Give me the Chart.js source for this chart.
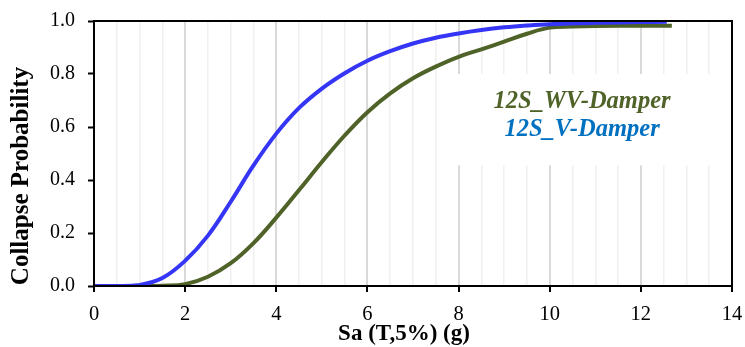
<!DOCTYPE html>
<html>
<head>
<meta charset="utf-8">
<script src="https://cdn.jsdelivr.net/npm/chart.js@4"></script>
<style>
html,body{margin:0;padding:0;background:#fff;}
#wrap{width:745px;height:347px;position:relative;}
</style>
</head>
<body>
<div id="wrap"><canvas id="c" width="745" height="347"></canvas></div>
<script>
// ---- data ----
const saV  = [0, 0.5, 1.0, 1.5, 2.0, 2.5, 3.0, 3.5, 4.0, 4.5, 5.0, 5.5, 6.0, 6.5, 7.0, 7.5, 8.0, 8.5, 9.0, 9.5, 10.0, 11.0, 12.0, 12.57];
const pV   = [0, 0, 0.004, 0.03, 0.095, 0.19, 0.318, 0.455, 0.575, 0.672, 0.745, 0.803, 0.850, 0.886, 0.915, 0.937, 0.953, 0.966, 0.976, 0.983, 0.988, 0.993, 0.996, 0.997];
const saWV = [0, 0.5, 1.0, 1.5, 2.0, 2.5, 3.0, 3.5, 4.0, 4.5, 5.0, 5.5, 6.0, 6.5, 7.0, 7.5, 8.0, 8.5, 9.0, 9.5, 10.0, 10.5, 11.0, 12.0, 12.68];
const pWV  = [0, 0, 0, 0.001, 0.007, 0.035, 0.086, 0.162, 0.258, 0.362, 0.468, 0.568, 0.656, 0.727, 0.784, 0.828, 0.865, 0.893, 0.922, 0.952, 0.975, 0.979, 0.981, 0.982, 0.982];
const seriesNames = ["12S_WV-Damper", "12S_V-Damper"];
const xTitle = "Sa (T,5%) (g)";
const yTitle = "Collapse Probability";
const xMin = 0, xMax = 14, xStep = 0.5, xLabelStep = 2;
const yMin = 0, yMax = 1, yStep = 0.2;

const toPts = (xs, ys) => xs.map((x, i) => ({x: x, y: ys[i]}));
const SERIF = "'Liberation Serif', 'DejaVu Serif', serif";
const isMajor = c => c.tick && Math.abs(c.tick.value / xLabelStep - Math.round(c.tick.value / xLabelStep)) < 1e-9;

const overlay = {
  id: 'overlay',
  beforeDatasetsDraw(chart) {
    const ctx = chart.ctx, xs = chart.scales.x, ys = chart.scales.y, a = chart.chartArea;
    const l = xs.getPixelForValue(7.75), t = ys.getPixelForValue(0.8), b = ys.getPixelForValue(0.455);
    ctx.save();
    ctx.fillStyle = '#ffffff';
    ctx.fillRect(l, t, a.right - l, b - t);
    ctx.restore();
  },
  afterDraw(chart) {
    const ctx = chart.ctx, xs = chart.scales.x, ys = chart.scales.y, a = chart.chartArea;
    ctx.save();
    ctx.strokeStyle = '#000';
    ctx.lineWidth = 2;
    ctx.strokeRect(a.left, a.top, a.right - a.left, a.bottom - a.top);
    ctx.textAlign = 'center';
    ctx.textBaseline = 'alphabetic';
    ctx.font = "italic bold 24.5px " + SERIF;
    const cx = xs.getPixelForValue(10.71);
    ctx.fillStyle = '#4F6228';
    ctx.fillText(seriesNames[0], cx, ys.getPixelForValue(0.672));
    ctx.fillStyle = '#0070C0';
    ctx.fillText(seriesNames[1], cx, ys.getPixelForValue(0.566));
    ctx.fillStyle = '#000';
    ctx.font = "bold 23px " + SERIF;
    ctx.fillText(xTitle, 404, 340);
    ctx.translate(28, 176);
    ctx.rotate(-Math.PI / 2);
    ctx.font = "bold 25px " + SERIF;
    ctx.fillText(yTitle, 0, 0);
    ctx.restore();
  }
};

new Chart(document.getElementById('c'), {
  type: 'scatter',
  data: {
    datasets: [
      {label: seriesNames[1], data: toPts(saV, pV), showLine: true, borderColor: '#3535F5', borderWidth: 4,
       pointRadius: 0, tension: 0.4, fill: false},
      {label: seriesNames[0], data: toPts(saWV, pWV), showLine: true, borderColor: '#4F6228', borderWidth: 4,
       pointRadius: 0, tension: 0.4, fill: false}
    ]
  },
  options: {
    responsive: false,
    animation: false,
    devicePixelRatio: 1,
    layout: {padding: {left: 0, right: 13, top: 21, bottom: 0}},
    plugins: {legend: {display: false}, tooltip: {enabled: false}},
    scales: {
      x: {
        type: 'linear', min: xMin, max: xMax,
        afterFit(s) { s.height = 61; s.paddingLeft = 0; s.paddingRight = 0; },
        ticks: {
          stepSize: xStep, autoSkip: false, maxRotation: 0, padding: 10,
          color: '#000', font: {family: SERIF, size: 20.5},
          callback: v => (Math.abs(v / xLabelStep - Math.round(v / xLabelStep)) < 1e-9 ? String(v) : '')
        },
        grid: {
          drawOnChartArea: true, drawTicks: true, tickLength: 6,
          color: c => (isMajor(c) ? '#D9D9D9' : '#F0F0F0'),
          lineWidth: c => (isMajor(c) ? 2 : 1.5),
          tickColor: c => (isMajor(c) ? '#000' : 'rgba(0,0,0,0)'),
          tickWidth: 2
        },
        border: {display: true, color: '#000', width: 2}
      },
      y: {
        type: 'linear', min: yMin, max: yMax,
        afterFit(s) { s.width = 94; s.paddingTop = 0; s.paddingBottom = 0; },
        ticks: {
          stepSize: yStep, padding: 13, color: '#000', font: {family: SERIF, size: 20},
          callback: v => v.toFixed(1)
        },
        grid: {drawOnChartArea: false, drawTicks: true, tickLength: 6, tickColor: '#000', tickWidth: 2},
        border: {display: true, color: '#000', width: 2}
      }
    }
  },
  plugins: [overlay]
});
</script>
</body>
</html>
